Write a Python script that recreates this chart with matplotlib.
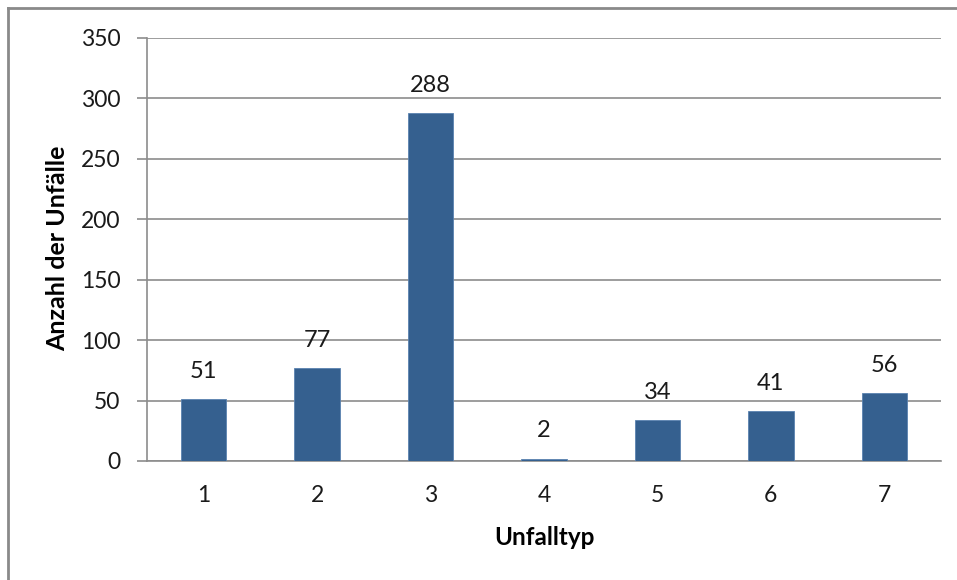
import matplotlib
matplotlib.use("Agg")
import matplotlib.pyplot as plt
from matplotlib.lines import Line2D

categories = ["1", "2", "3", "4", "5", "6", "7"]
counts = [51, 77, 288, 2, 34, 41, 56]
y_ticks = [0, 50, 100, 150, 200, 250, 300, 350]

plt.rcParams["font.family"] = ["Lato", "DejaVu Sans"]

fig = plt.figure(figsize=(9.57, 5.8), dpi=100)
ax = fig.add_axes([0.1536, 0.2052, 0.8297, 0.7293])

x = list(range(len(categories)))
bar_color = "#35608f"
ax.bar(x, counts, width=0.4, color=bar_color, edgecolor="#5a82b0", linewidth=0.6, zorder=3)

for xi, v in zip(x, counts):
    ax.annotate(str(v), (xi, v), xytext=(0, 20), textcoords="offset points",
                ha="center", va="center", fontsize=17, color="#1a1a1a")

ax.set_xlim(-0.5, len(categories) - 0.5)
ax.set_ylim(0, 350)
ax.set_yticks(y_ticks)
ax.set_xticks(x)
ax.set_xticklabels(categories)
ax.grid(axis="y", color="#8c8c8c", linewidth=1.2, zorder=0)

for side in ["top", "right"]:
    ax.spines[side].set_visible(False)
ax.spines["left"].set_color("#8c8c8c")
ax.spines["left"].set_linewidth(1.2)
ax.spines["bottom"].set_color("#8c8c8c")
ax.spines["bottom"].set_linewidth(1.2)

ax.tick_params(axis="y", direction="out", length=7, width=1.2, color="#8c8c8c",
               labelsize=16.5, pad=12, labelcolor="#1a1a1a")
ax.tick_params(axis="x", length=0, labelsize=16.5, pad=17, labelcolor="#1a1a1a")

ax.set_ylabel("Anzahl der Unfälle", fontsize=18, fontweight="bold", va="center")
ax.yaxis.set_label_coords(-0.112, 0.502)
ax.set_xlabel("Unfalltyp", fontsize=17.5, fontweight="bold", va="center")
ax.xaxis.set_label_coords(0.5, -0.18)

# Outer chart-area frame (top and left edges)
fig.add_artist(Line2D([8 / 957, 1.0], [1 - 8 / 580, 1 - 8 / 580], transform=fig.transFigure,
                      color="#8a8a8a", linewidth=2))
fig.add_artist(Line2D([8 / 957, 8 / 957], [0, 1 - 8 / 580], transform=fig.transFigure,
                      color="#8a8a8a", linewidth=2))

fig.savefig("out.png", dpi=100)
